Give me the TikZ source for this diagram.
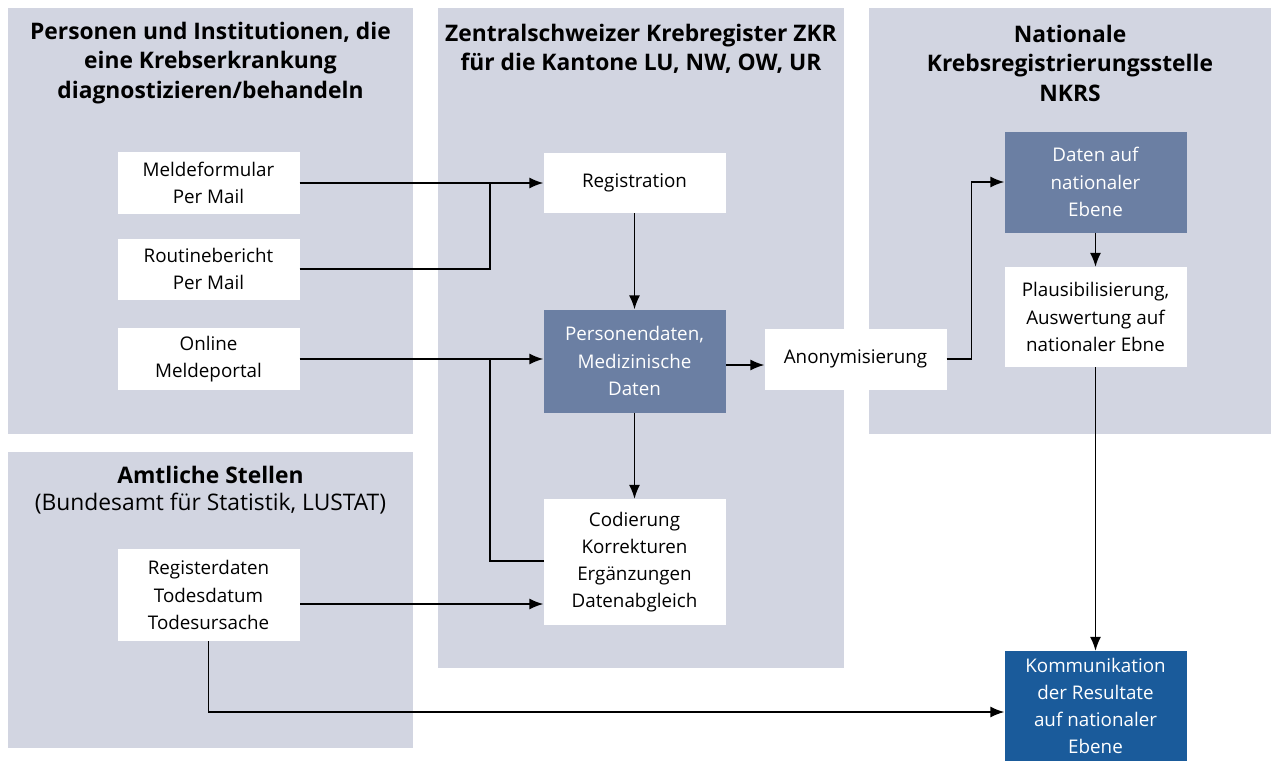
\documentclass[tikz,border=0pt]{standalone}
\usepackage{fontspec}
\setmainfont{Open Sans}
\usetikzlibrary{arrows.meta}
\definecolor{panelgray}{HTML}{D2D5E1}
\definecolor{midblue}{HTML}{6B7FA3}
\definecolor{darkblue}{HTML}{1A5B9B}
\tikzset{
  panel/.style={fill=panelgray, draw=none},
  boxbase/.style={draw=none, inner sep=0pt, align=center, minimum width=182, font=\fontsize{18.8}{27.2}\selectfont},
  wbox/.style={boxbase, fill=white, text=black},
  mbox/.style={boxbase, fill=midblue, text=white},
  dbox/.style={boxbase, fill=darkblue, text=white},
  ttl/.style={align=center, inner sep=0pt, font=\fontsize{22.8}{29.5}\selectfont\bfseries},
  conn/.style={line width=1.4pt, draw=black},
  arr/.style={conn, -{Latex[length=14pt,width=11pt]}},
}
\begin{document}
\begin{tikzpicture}[x=1pt,y=-1pt]
\useasboundingbox (0,0) rectangle (1271,760);
\fill[white] (0,0) rectangle (1271,760);
% panels
\fill[panel] (8,8) rectangle (413,434);
\fill[panel] (438,8) rectangle (844,668);
\fill[panel] (869,8) rectangle (1271,434);
\fill[panel] (8,452) rectangle (413,748);
% titles
\node[ttl] (t1) at (210.5,63) {Personen und Institutionen, die\\eine Krebserkrankung\\diagnostizieren/behandeln};
\node[ttl] (t2) at (641,49) {Zentralschweizer Krebregister ZKR\\für die Kantone LU, NW, OW, UR};
\node[ttl] (t3) at (1070,63) {Nationale\\Krebsregistrierungsstelle\\NKRS};
\node[ttl] (t4) at (210.5,475) {Amtliche Stellen};
\node[align=center, inner sep=0pt, font=\fontsize{22.8}{29.5}\selectfont] (t4b) at (210.5,504) {(Bundesamt für Statistik, LUSTAT)};
% boxes left
\node[wbox, minimum height=62] (mf) at (208.5,183) {Meldeformular\\Per Mail};
\node[wbox, minimum height=61] (rb) at (208.5,269) {Routinebericht\\Per Mail};
\node[wbox, minimum height=62] (ol) at (208.5,359) {Online\\Meldeportal};
\node[wbox, minimum height=92] (rd) at (208.5,595) {Registerdaten\\Todesdatum\\Todesursache};
% boxes middle
\node[wbox, minimum height=60] (reg) at (634.5,183) {Registration};
\node[mbox, minimum height=103] (pd) at (634.5,361) {Personendaten,\\Medizinische\\Daten};
\node[wbox, minimum height=61] (an) at (855.5,359) {Anonymisierung};
\node[wbox, minimum height=126] (cod) at (634.5,562) {Codierung\\Korrekturen\\Ergänzungen\\Datenabgleich};
% boxes right
\node[mbox, minimum height=101] (dn) at (1095.5,182) {Daten auf\\nationaler\\Ebene};
\node[wbox, minimum height=100] (pl) at (1095.5,317) {Plausibilisierung,\\Auswertung auf\\nationaler Ebne};
\node[dbox, minimum height=110] (kom) at (1095.5,706) {Kommunikation\\der Resultate\\auf nationaler\\Ebene};
% junction coordinates
\coordinate (j1) at (490,183);
\coordinate (j2) at (490,359);
\coordinate (c1) at (544,561);
\coordinate (r1) at (300,604);
\coordinate (k1) at (0,712);
\coordinate (p1) at (726,365);
% connectors
\draw[arr] (mf.east) -- (mf.east -| reg.west);
\draw[conn] (rb.east) -| (j1);
\draw[arr] (ol.east) -- (ol.east -| pd.west);
\draw[conn] (c1) -| (j2);
\draw[arr] (r1) -- (r1 -| cod.west);
\draw[arr] (rd.south) |- (kom.west |- k1);
\draw[arr] (reg.south) -- (pd.north);
\draw[arr] (pd.south) -- (cod.north);
\draw[arr] (p1) -- (p1 -| an.west);
\draw[arr] (an.east) -- ++(25,0) |- (dn.west);
\draw[arr] (dn.south) -- (pl.north);
\draw[arr] (pl.south) -- (kom.north);
\end{tikzpicture}
\end{document}
